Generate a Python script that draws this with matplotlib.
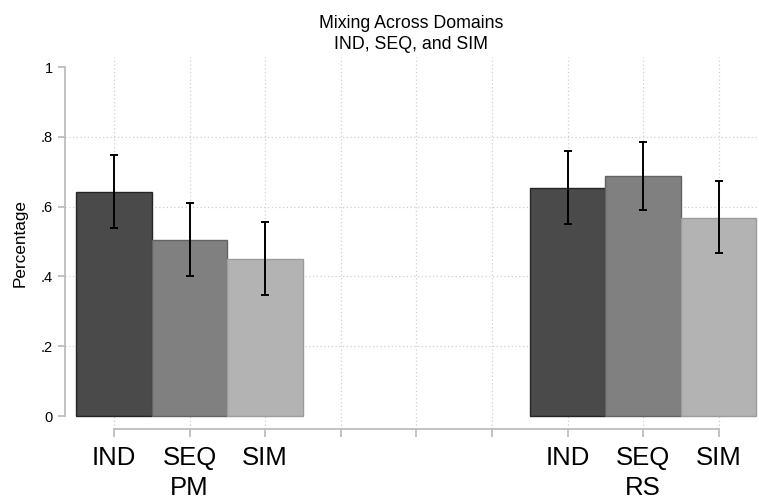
import matplotlib.pyplot as plt

plt.rcParams['font.family'] = ['Liberation Sans', 'DejaVu Sans']

# Data
conditions = ['IND', 'SEQ', 'SIM']
groups = ['PM', 'RS']
pm_means = [0.642, 0.504, 0.450]
pm_lo = [0.539, 0.401, 0.346]
pm_hi = [0.748, 0.610, 0.556]
rs_means = [0.654, 0.688, 0.568]
rs_lo = [0.551, 0.591, 0.467]
rs_hi = [0.759, 0.784, 0.672]

fills = ['#4a4a4a', '#808080', '#b3b3b3']
edges = ['#262626', '#636363', '#9c9c9c']

fig = plt.figure(figsize=(7.59, 4.99), dpi=100)
ax = fig.add_axes([65 / 759, 70 / 499, 693 / 759, 372 / 499])

# two groups of three bars, slots 1-3 and 7-9
group_start = [1, 7]
all_means = [pm_means, rs_means]
all_lo = [pm_lo, rs_lo]
all_hi = [pm_hi, rs_hi]

for g in range(len(groups)):
    for i in range(len(conditions)):
        x = group_start[g] + i
        m = all_means[g][i]
        ax.bar(x, m, width=1.0, color=fills[i], edgecolor=edges[i], linewidth=1.0, zorder=2)
        ax.errorbar(x, m, yerr=[[m - all_lo[g][i]], [all_hi[g][i] - m]],
                    fmt='none', ecolor='black', elinewidth=1.4, capsize=3, capthick=1.4, zorder=3)

# gridlines
grid_color = '#d0d0d0'
for xv in range(1, 10):
    ax.axvline(xv, color=grid_color, linestyle=(0, (1, 2)), linewidth=0.9, zorder=1)
for yv in [0.2, 0.4, 0.6, 0.8]:
    ax.axhline(yv, color=grid_color, linestyle=(0, (1, 2)), linewidth=0.9, zorder=1)

ax.set_xlim(0.352, 9.52)
ax.set_ylim(-0.0372, 1.0287)

ax.set_yticks([0, 0.2, 0.4, 0.6, 0.8, 1])
ax.set_yticklabels(['0', '.2', '.4', '.6', '.8', '1'], fontsize=10.5)

xlabels = ['IND', 'SEQ\n' + groups[0], 'SIM', '', '', '', 'IND', 'SEQ\n' + groups[1], 'SIM']
ax.set_xticks(range(1, 10))
ax.set_xticklabels(xlabels, fontsize=18.5, linespacing=1.35, va='top')

spine_color = '#bdbdbd'
for s in ['top', 'right']:
    ax.spines[s].set_visible(False)
ax.spines['left'].set_bounds(0, 1)
ax.spines['bottom'].set_bounds(1, 9)
ax.spines['left'].set_color(spine_color)
ax.spines['bottom'].set_color(spine_color)
ax.spines['left'].set_linewidth(1.3)
ax.spines['bottom'].set_linewidth(1.3)
ax.tick_params(axis='y', length=5, width=1.3, color=spine_color, pad=4)
ax.tick_params(axis='x', length=6, width=1.3, color=spine_color, pad=6)

ax.set_ylabel('Percentage', fontsize=12.3, labelpad=9)
ax.set_title('Mixing Across Domains\nIND, SEQ, and SIM', fontsize=12.8, pad=6, linespacing=1.3)

fig.savefig('out.png', dpi=100)
